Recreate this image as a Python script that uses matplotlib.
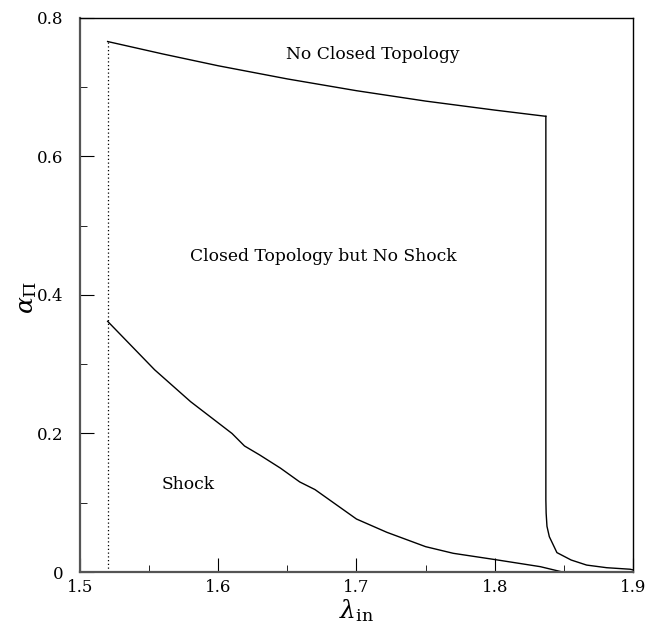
import numpy as np
from matplotlib import pyplot as plt

plt.rcParams['mathtext.fontset'] = 'dejavuserif'

# граница "закрытой топологии" (верхняя кривая)
lam_top = [1.52, 1.56, 1.60, 1.65, 1.70, 1.75, 1.80, 1.837]
alpha_top = [0.766, 0.748, 0.731, 0.712, 0.695, 0.680, 0.667, 0.658]

# граница ударной волны (нижняя кривая)
lam_shock = [1.52, 1.554, 1.580, 1.610, 1.619, 1.630, 1.645, 1.659, 1.670,
             1.700, 1.722, 1.750, 1.770, 1.800, 1.833, 1.849]
alpha_shock = [0.362, 0.292, 0.246, 0.200, 0.182, 0.169, 0.150, 0.130, 0.119,
               0.0765, 0.0573, 0.0366, 0.027, 0.018, 0.0077, 0.0]

# правая граница: почти вертикальный спуск и хвост
lam_right = [1.837, 1.837, 1.8372, 1.8378, 1.8395, 1.845, 1.8553, 1.8665,
             1.881, 1.898, 1.90]
alpha_right = [0.658, 0.104, 0.085, 0.066, 0.051, 0.028, 0.0173, 0.010,
               0.0062, 0.004, 0.003]

lam_min = 1.52  # пунктирная граница слева

fig = plt.figure(figsize=(6.47, 6.31), dpi=100)
ax = fig.add_axes([0.1236, 0.0935, 0.8547, 0.878])

ax.plot(lam_top, alpha_top, color='black', lw=1)
ax.plot(lam_shock, alpha_shock, color='black', lw=1)
ax.plot(lam_right, alpha_right, color='black', lw=1)
ax.plot([lam_min, lam_min], [0, alpha_top[0]], color='black', lw=0.9,
        linestyle=(0, (1, 2)))

ax.text(1.712, 0.747, 'No Closed Topology', ha='center', va='center',
        family='DejaVu Serif', fontsize=12.3)
ax.text(1.676, 0.456, 'Closed Topology but No Shock', ha='center', va='center',
        family='DejaVu Serif', fontsize=12.3)
ax.text(1.578, 0.127, 'Shock', ha='center', va='center',
        family='DejaVu Serif', fontsize=12.3)

ax.set_xlim(1.5, 1.9)
ax.set_ylim(0, 0.8)
ax.set_xticks([1.5, 1.6, 1.7, 1.8, 1.9])
ax.set_xticks(np.arange(1.55, 1.9, 0.1), minor=True)
ax.set_yticks([0, 0.2, 0.4, 0.6, 0.8])
ax.set_yticks([0.1, 0.3, 0.5, 0.7], minor=True)
ax.set_yticklabels(['0', '0.2', '0.4', '0.6', '0.8'])
ax.tick_params(which='both', direction='in', top=False, right=False,
               labelsize=12)
ax.tick_params(axis='x', pad=5)
ax.tick_params(axis='y', pad=12)
ax.tick_params(which='major', length=10)
ax.tick_params(which='minor', length=5)
for lbl in ax.get_xticklabels() + ax.get_yticklabels():
    lbl.set_family('DejaVu Serif')

ax.set_xlabel(r'$\lambda_{\rm in}$', fontsize=18)
ax.set_ylabel(r'$\alpha_\Pi$', fontsize=18)
ax.xaxis.set_label_coords(0.5, -0.046)
ax.yaxis.set_label_coords(-0.074, 0.496)

for side in ['bottom', 'left']:
    ax.spines[side].set_color('#555555')
    ax.spines[side].set_linewidth(1.6)
for side in ['top', 'right']:
    ax.spines[side].set_linewidth(1)

fig.savefig('out.png', dpi=100)
